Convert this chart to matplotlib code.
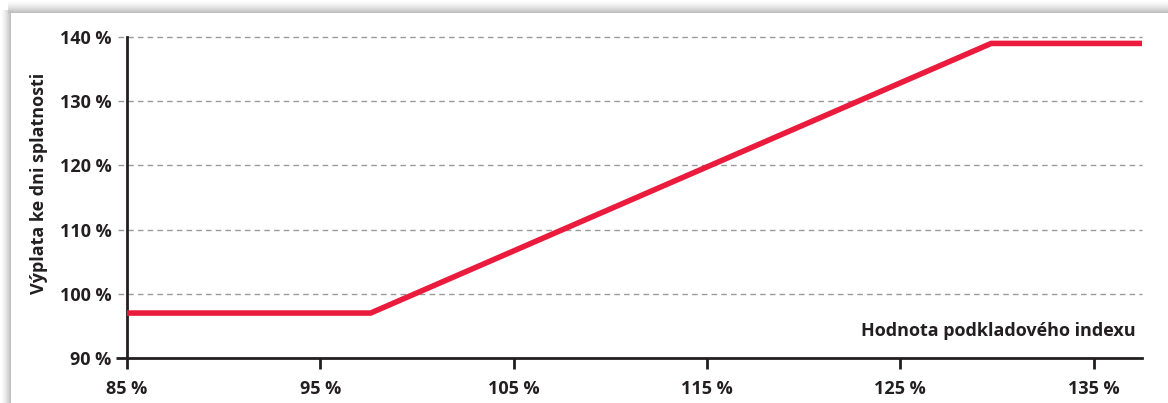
import numpy as np
import matplotlib
matplotlib.use("Agg")
import matplotlib.pyplot as plt
from matplotlib.transforms import blended_transform_factory

# payoff profile: underlying index value (%) -> payout at maturity (%)
index_values = [85, 97.6, 129.7, 137.5]
payout_values = [97, 97, 139, 139]

x_ticks = [85, 95, 105, 115, 125, 135]
y_ticks = [90, 100, 110, 120, 130, 140]
x_label = "Hodnota podkladového indexu"
y_label = "Výplata ke dni splatnosti"

RED = "#ea1b3d"
INK = "#231f20"
GRID = "#9a9a9a"
FS = 13

plt.rcParams["font.family"] = ["Open Sans", "DejaVu Sans"]
plt.rcParams["font.weight"] = "bold"

W, H = 1168, 403
fig = plt.figure(figsize=(W / 100, H / 100), dpi=100, facecolor="white")

# card shadow along the top and left edges
bg = np.ones((H, W, 3))
top, left = 13, 11
for i in range(top):
    bg[i, left - 3:, :] = 1 - 0.28 * (i / top) ** 1.5
for j in range(left):
    bg[top - 3:, j, :] = np.minimum(bg[top - 3:, j, :], 1 - 0.28 * (j / left) ** 1.5)
bg[top:, left:, :] = 1.0
fig.figimage(bg, xo=0, yo=0, origin="upper", zorder=-10)

ax = fig.add_axes([127 / W, 1 - 358 / H, (1142 - 127) / W, (358 - 37) / H])
ax.set_zorder(5)
ax.patch.set_alpha(0)

ax.plot(index_values, payout_values, color=RED, lw=4, solid_capstyle="butt",
        solid_joinstyle="miter", zorder=3)

ax.set_xlim(85, 137.5)
ax.set_ylim(90, 140)
ax.set_xticks(x_ticks)
ax.set_yticks(y_ticks)
ax.set_xticklabels([f"{v} %" for v in x_ticks])
ax.set_yticklabels([f"{v} %" for v in y_ticks])

# dashed grid lines that run slightly past the left spine
trans = blended_transform_factory(ax.transAxes, ax.transData)
ax.hlines(y_ticks[1:], -0.009, 1.0, transform=trans, colors=GRID, lw=1,
          linestyles=(0, (4, 3)), clip_on=False, zorder=1)

for side in ("top", "right"):
    ax.spines[side].set_visible(False)
for side in ("left", "bottom"):
    ax.spines[side].set_color(INK)
    ax.spines[side].set_linewidth(2)

ax.tick_params(axis="x", length=8, width=2, color=INK, pad=8,
               labelsize=FS, labelcolor=INK)
ax.tick_params(axis="y", length=8, width=2, color=INK, pad=3,
               labelsize=FS, labelcolor=INK)
for tick in ax.yaxis.get_major_ticks()[1:]:
    tick.tick1line.set_visible(False)
for lab in ax.get_xticklabels() + ax.get_yticklabels():
    lab.set_fontweight("bold")

ax.set_ylabel(y_label, fontsize=FS, fontweight="bold", color=INK)
ax.yaxis.set_label_coords(-0.078, 0.545)
ax.text(0.994, 0.085, x_label, transform=ax.transAxes, ha="right", va="center",
        fontsize=FS, fontweight="bold", color=INK)

fig.savefig("out.png", dpi=100)
